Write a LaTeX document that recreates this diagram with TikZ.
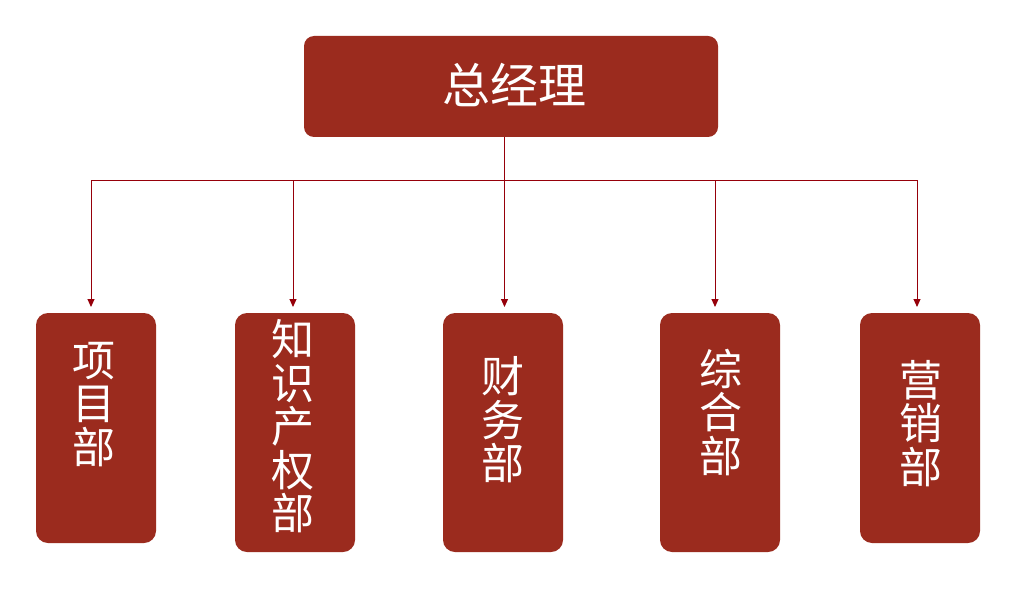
\documentclass[tikz,border=0pt]{standalone}
\usepackage{fontspec}
\newfontfamily\cjk{Noto Sans CJK SC}
\usetikzlibrary{arrows.meta}
\definecolor{boxred}{RGB}{155,43,30}
\definecolor{linered}{RGB}{150,0,10}
\tikzset{
  topbox/.style={fill=boxred, draw=none, rounded corners=10pt, minimum width=414pt, minimum height=101pt, inner sep=0pt},
  deptbox/.style={fill=boxred, draw=none, rounded corners=12pt, minimum width=120pt, inner sep=0pt},
  depttext/.style={text=white, font=\cjk\fontsize{43}{43.5}\selectfont, align=center, inner sep=0pt},
  toptext/.style={text=white, font=\cjk\fontsize{48}{48}\selectfont, inner sep=0pt},
  conn/.style={draw=linered, line width=1pt},
  arr/.style={conn, -{Triangle[width=7pt,length=8pt]}}
}
\begin{document}
\begin{tikzpicture}[x=1pt,y=-1pt]
\useasboundingbox (0,0) rectangle (1032,596);
\fill[white] (0,0) rectangle (1032,596);
% top box
\node[topbox] (top) at (511,86.5) {};
\node[toptext] (toplabel) at (514,84.5) {总经理};
% department boxes
\node[deptbox, minimum height=230pt] (b1) at (96,428) {};
\node[deptbox, minimum height=239pt] (b2) at (295,432.5) {};
\node[deptbox, minimum height=239pt] (b3) at (503,432.5) {};
\node[deptbox, minimum height=239pt] (b4) at (720,432.5) {};
\node[deptbox, minimum height=230pt] (b5) at (920,428) {};
\node[depttext] (l1) at (94,404.5) {项\\目\\部};
\node[depttext] (l2) at (293,426.5) {知\\识\\产\\权\\部};
\node[depttext] (l3) at (503,420) {财\\务\\部};
\node[depttext] (l4) at (721,412.5) {综\\合\\部};
\node[depttext] (l5) at (921,423.5) {营\\销\\部};
% arrow tips and bus
\coordinate (t1) at (91,307);
\coordinate (t2) at (293,307);
\coordinate (t3) at (504.5,307);
\coordinate (t4) at (715,307);
\coordinate (t5) at (917,307);
\coordinate (hub) at (504.5,180);
\draw[conn] (t1 |- hub) -- (t5 |- hub);
\draw[arr] (t3 |- top.south) -- (t3);
\draw[arr] (t1 |- hub) -- (t1);
\draw[arr] (t2 |- hub) -- (t2);
\draw[arr] (t4 |- hub) -- (t4);
\draw[arr] (t5 |- hub) -- (t5);
\end{tikzpicture}
\end{document}
